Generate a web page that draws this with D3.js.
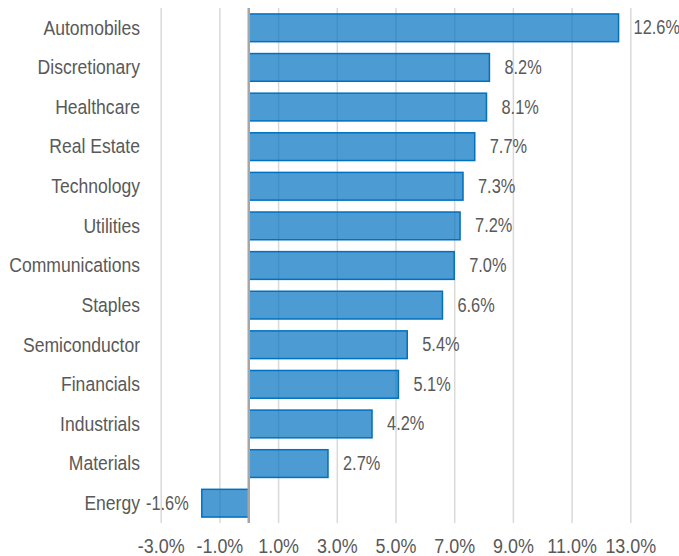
<!DOCTYPE html>
<html>
<head>
<meta charset="utf-8">
<script src="https://cdn.jsdelivr.net/npm/d3@7"></script>
<style>
  body { margin: 0; background: #fff; }
  svg { font-family: "Liberation Sans", Arial, sans-serif; }
</style>
</head>
<body>
<svg id="grafico" width="679" height="556"></svg>
<script>
// Datos del gráfico
var categorias = ["Automobiles", "Discretionary", "Healthcare", "Real Estate", "Technology", "Utilities",
    "Communications", "Staples", "Semiconductor", "Financials", "Industrials", "Materials", "Energy"];
var valores = [12.6, 8.2, 8.1, 7.7, 7.3, 7.2, 7.0, 6.6, 5.4, 5.1, 4.2, 2.7, -1.6];
var marcas = [-3, -1, 1, 3, 5, 7, 9, 11, 13];

var svg = d3.select("#grafico");
var colorTexto = "#595959";
var tamFuente = "19.5px";

var x = d3.scaleLinear().domain([-3, 13]).range([160.7, 630.3]);
var y = d3.scaleBand().domain(categorias).range([8, 523]).paddingInner(0.3).paddingOuter(0.15);

// Rejilla y etiquetas del eje X
var eje = svg.append("g")
    .attr("transform", "translate(0,523)")
    .call(d3.axisBottom(x).tickValues(marcas).tickFormat(d => d.toFixed(1) + "%").tickSize(-515).tickPadding(16));
eje.select(".domain").remove();
eje.selectAll("line").attr("stroke", "#d9d9d9").attr("stroke-width", 1.5);
eje.selectAll("text")
    .attr("fill", colorTexto)
    .style("font-size", tamFuente)
    .attr("transform", "scale(0.92,1)"); // la fuente original es algo más estrecha

// Barras
svg.append("g")
    .selectAll("rect")
    .data(valores)
    .enter()
    .append("rect")
    .attr("x", d => x(Math.min(0, d)))
    .attr("y", (d, i) => y(categorias[i]))
    .attr("width", d => Math.abs(x(d) - x(0)))
    .attr("height", y.bandwidth())
    .attr("fill", "#0070c0")
    .attr("fill-opacity", 0.7)
    .attr("stroke", "#0070c0")
    .attr("stroke-width", 1.5);

// Línea del cero
svg.append("line")
    .attr("x1", x(0)).attr("x2", x(0))
    .attr("y1", 8).attr("y2", 523)
    .attr("stroke", "#a6a6a6")
    .attr("stroke-width", 2.5);

// Nombres de categoría
svg.append("g")
    .selectAll("text")
    .data(categorias)
    .enter()
    .append("text")
    .attr("transform", d => "translate(140," + (y(d) + y.bandwidth() / 2) + ") scale(0.9,1)")
    .attr("text-anchor", "end")
    .attr("dominant-baseline", "central")
    .attr("fill", colorTexto)
    .style("font-size", tamFuente)
    .text(d => d);

// Etiquetas de valor
svg.append("g")
    .selectAll("text")
    .data(valores)
    .enter()
    .append("text")
    .attr("transform", (d, i) => "translate(" + (d < 0 ? x(d) - 13 : x(d) + 15) + "," + (y(categorias[i]) + y.bandwidth() / 2) + ") scale(0.84,1)")
    .attr("text-anchor", d => d < 0 ? "end" : "start")
    .attr("dominant-baseline", "central")
    .attr("fill", colorTexto)
    .style("font-size", tamFuente)
    .text(d => d.toFixed(1) + "%");
</script>
</body>
</html>
